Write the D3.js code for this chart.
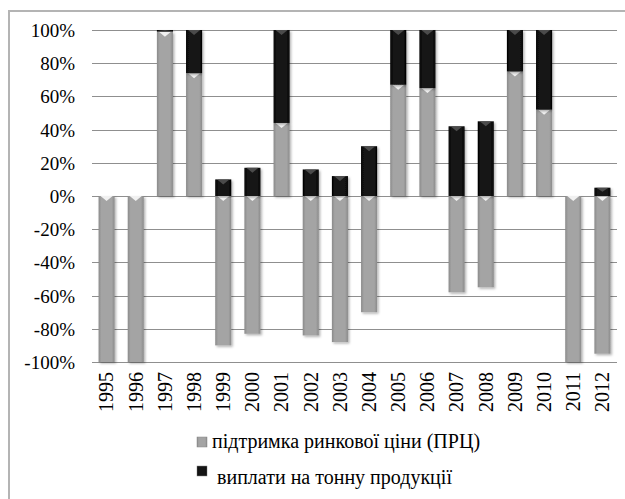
<!DOCTYPE html>
<html>
<head>
<meta charset="utf-8">
<script src="https://cdn.jsdelivr.net/npm/d3@7"></script>
<style>
  html, body { margin: 0; padding: 0; background: #fff; }
  svg { display: block; }
  svg text, #chart text { font-family: "Liberation Serif", serif !important; }
</style>
</head>
<body>
<div id="chart"></div>
<script>
const years = ["1995", "1996", "1997", "1998", "1999", "2000", "2001", "2002", "2003",
  "2004", "2005", "2006", "2007", "2008", "2009", "2010", "2011", "2012"];
// market price support (ПРЦ), share in %
const marketSupport = [-100, -100, 99, 74, -90, -83, 44, -84, -88, -70, 67, 65, -58, -55, 75, 52, -100, -95];
// payments per tonne of output, share in %
const paymentsPerTonne = [0, 0, 1, 26, 10, 17, 56, 16, 12, 30, 33, 35, 42, 45, 25, 48, 0, 5];
const yTicks = [-100, -80, -60, -40, -20, 0, 20, 40, 60, 80, 100];
const seriesNames = ["підтримка ринкової ціни (ПРЦ)", "виплати на тонну продукції"];

const FONT = "'Liberation Serif', serif";
const width = 625, height = 499;
const plot = { left: 92, right: 617, top: 30, bottom: 362 };

const svg = d3.select("#chart").append("svg")
  .attr("width", width).attr("height", height)
  .style("font-family", FONT, "important");

// outer frame (only top/left visible in the picture)
svg.append("rect")
  .attr("x", 9).attr("y", 11).attr("width", 630).attr("height", 520)
  .attr("fill", "#fff").attr("stroke", "#b4b4b4").attr("stroke-width", 2);

const defs = svg.append("defs");
function barGradient(id, edge, mid) {
  const g = defs.append("linearGradient").attr("id", id)
    .attr("x1", "0%").attr("x2", "100%").attr("y1", "0%").attr("y2", "0%");
  g.append("stop").attr("offset", "0%").attr("stop-color", edge);
  g.append("stop").attr("offset", "18%").attr("stop-color", mid);
  g.append("stop").attr("offset", "82%").attr("stop-color", mid);
  g.append("stop").attr("offset", "100%").attr("stop-color", edge);
}
barGradient("gGray", "#8a8a8a", "#a4a4a4");
barGradient("gBlack", "#000", "#151515");
const shadow = defs.append("filter").attr("id", "shadow")
  .attr("x", "-30%").attr("y", "-10%").attr("width", "160%").attr("height", "120%");
shadow.append("feDropShadow").attr("dx", 1.5).attr("dy", 1.5).attr("stdDeviation", 1.2)
  .attr("flood-color", "#000").attr("flood-opacity", 0.3);

const x = d3.scaleBand().domain(years)
  .range([plot.left, plot.right]).paddingInner(0.45).paddingOuter(0.225);
const y = d3.scaleLinear().domain([-100, 100]).range([plot.bottom, plot.top]);

// gridlines
svg.append("g").selectAll("line").data(yTicks).join("line")
  .attr("x1", plot.left).attr("x2", plot.right)
  .attr("y1", d => Math.round(y(d)) + 0.5).attr("y2", d => Math.round(y(d)) + 0.5)
  .attr("stroke", "#8f8f8f").attr("stroke-width", 1);

// y axis labels
const yAxis = svg.append("g")
  .attr("transform", `translate(${plot.left - 17},0)`)
  .call(d3.axisLeft(y).tickValues(yTicks).tickSize(0).tickPadding(0).tickFormat(d => d + "%"));
yAxis.attr("font-family", null).attr("font-size", null);
yAxis.select(".domain").remove();
yAxis.selectAll("text")
  .style("font-family", FONT, "important").style("font-size", "19px")
  .attr("fill", "#000").attr("dy", "0.34em");

// x axis labels (rotated)
const xAxis = svg.append("g")
  .attr("transform", `translate(0,${plot.bottom + 10})`)
  .call(d3.axisBottom(x).tickSize(0).tickPadding(0));
xAxis.attr("font-family", null).attr("font-size", null);
xAxis.select(".domain").remove();
xAxis.selectAll("text")
  .style("font-family", FONT, "important").style("font-size", "20px").attr("fill", "#000")
  .attr("transform", "rotate(-90)").attr("text-anchor", "end")
  .attr("x", 0).attr("y", 0).attr("dy", "0.34em");

// stacked bars
const table = years.map((yr, i) => ({ year: yr, support: marketSupport[i], payments: paymentsPerTonne[i] }));
const stacked = d3.stack().keys(["support", "payments"]).offset(d3.stackOffsetDiverging)(table);
const fills = ["url(#gGray)", "url(#gBlack)"];
const chevron = ["#ffffff", "#555555"];

stacked.forEach((layer, li) => {
  const g = svg.append("g");
  const segs = layer.filter(d => d[1] - d[0] !== 0);
  g.selectAll("rect").data(segs).join("rect")
    .attr("x", d => x(d.data.year))
    .attr("width", x.bandwidth())
    .attr("y", d => y(d[1]))
    .attr("height", d => y(d[0]) - y(d[1]))
    .attr("fill", fills[li])
    .attr("filter", "url(#shadow)");
  // bevel chevron at the top of each segment
  g.selectAll("path").data(segs).join("path")
    .attr("d", d => {
      const x0 = x(d.data.year), w = x.bandwidth(), t = y(d[1]);
      const h = Math.min(5, (y(d[0]) - t) / 2);
      return `M${x0 + 2},${t} L${x0 + w - 2},${t} L${x0 + w / 2},${t + h} Z`;
    })
    .attr("fill", chevron[li]).attr("opacity", 0.85);
});

// legend
const legend = svg.append("g");
const legendRows = [
  { name: seriesNames[0], fill: "url(#gGray)", sx: 197, sy: 437, tx: 212, ty: 448 },
  { name: seriesNames[1], fill: "url(#gBlack)", sx: 197, sy: 466, tx: 217, ty: 484 }
];
legendRows.forEach(r => {
  legend.append("rect").attr("x", r.sx).attr("y", r.sy).attr("width", 10).attr("height", 10)
    .attr("fill", r.fill).attr("stroke", "#888").attr("stroke-width", 0.5);
  legend.append("text").attr("x", r.tx).attr("y", r.ty)
    .style("font-family", FONT, "important").style("font-size", "20px")
    .attr("fill", "#000").text(r.name);
});
</script>
</body>
</html>
